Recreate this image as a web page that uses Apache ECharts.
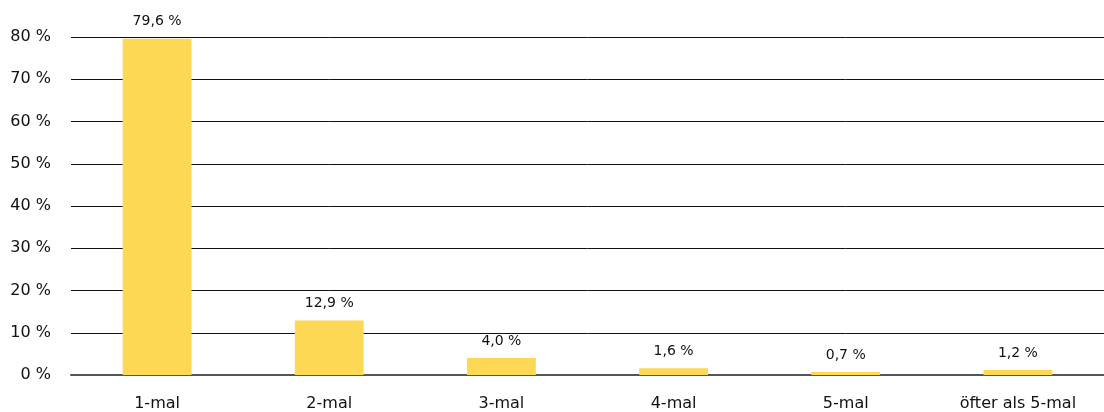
<!DOCTYPE html>
<html>
<head>
<meta charset="utf-8">
<script src="https://cdn.jsdelivr.net/npm/echarts@6/dist/echarts.min.js"></script>
<style>
  html, body { margin: 0; padding: 0; background: #fff; }
  #chart { width: 1104px; height: 412px; }
</style>
</head>
<body>
<div id="chart"></div>
<script>
const categories = ['1-mal', '2-mal', '3-mal', '4-mal', '5-mal', 'öfter als 5-mal']
const values = [79.6, 12.9, 4.0, 1.6, 0.7, 1.2]
const yTicks = [0, 10, 20, 30, 40, 50, 60, 70, 80]

const fmt = v => v.toFixed(1).replace('.', ',') + ' %'

const chart = echarts.init(document.getElementById('chart'))
chart.setOption({
    animation: false,
    textStyle: { fontFamily: 'DejaVu Sans' },
    grid: { left: 71, right: 0, top: 37, bottom: 37, containLabel: false },
    xAxis: {
        type: 'category',
        data: categories,
        axisTick: { show: false },
        axisLine: { z: 5, lineStyle: { color: '#555', width: 2 } },
        axisLabel: { color: '#111', fontSize: 16, margin: 21 }
    },
    yAxis: {
        type: 'value',
        min: yTicks[0],
        max: yTicks[yTicks.length - 1],
        interval: 10,
        axisLine: { show: false },
        axisTick: { show: false },
        axisLabel: { color: '#111', fontSize: 16, margin: 20, formatter: v => v + ' %' },
        splitLine: { lineStyle: { color: '#111', width: 1 } }
    },
    series: [{
        type: 'bar',
        data: values,
        barWidth: '40%',
        itemStyle: { color: '#FDD855' },
        label: {
            show: true,
            position: 'top',
            distance: 10,
            color: '#111',
            fontSize: 14,
            formatter: p => fmt(p.value)
        }
    }]
})
</script>
</body>
</html>
